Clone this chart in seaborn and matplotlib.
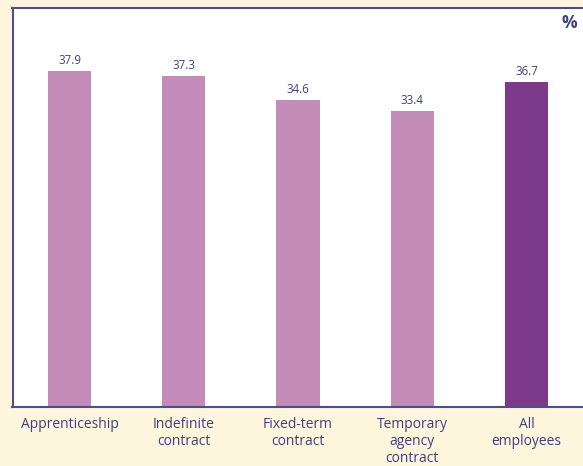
import matplotlib
matplotlib.use("Agg")
import matplotlib.pyplot as plt
import seaborn as sns
import pandas as pd

categories = ["Apprenticeship", "Indefinite\ncontract", "Fixed-term\ncontract",
              "Temporary\nagency\ncontract", "All\nemployees"]
values = [37.9, 37.3, 34.6, 33.4, 36.7]
bar_colors = ["#C38BB8", "#C38BB8", "#C38BB8", "#C38BB8", "#7D3A8A"]

navy = "#3E4080"
sns.set_theme(style="white")
plt.rcParams["font.family"] = ["Open Sans", "DejaVu Sans"]

df = pd.DataFrame({"cat": categories, "val": values})

fig = plt.figure(figsize=(5.83, 4.66), dpi=100)
fig.patch.set_facecolor("#FEF6DC")
ax = fig.add_axes([12.5 / 583, 59 / 466, 571 / 583, 399 / 466])
ax.set_facecolor("white")

sns.barplot(data=df, x="cat", y="val", hue="cat", palette=bar_colors,
            legend=False, width=0.38, saturation=1, linewidth=0, ax=ax)
ax.set_ylim(0, 45)
ax.set_xlim(-0.5, 4.5)
ax.set_yticks([])
ax.set_xlabel("")
ax.set_ylabel("")
ax.tick_params(axis="x", length=0, colors=navy, labelsize=10, pad=7)
for lab in ax.get_xticklabels():
    lab.set_linespacing(1.2)
    lab.set_verticalalignment("top")

for i, v in enumerate(values):
    ax.text(i, v + 0.45, f"{v:.1f}", ha="center", va="bottom", fontsize=8.3, color=navy)

ax.text(0.988, 0.986, "%", transform=ax.transAxes, ha="right", va="top",
        fontsize=12.5, fontweight="bold", color=navy)

for s in ax.spines.values():
    s.set_color("#4B4F8F")
    s.set_linewidth(1.5)
ax.spines["right"].set_visible(False)

fig.savefig("out.png", dpi=100, facecolor=fig.get_facecolor())
